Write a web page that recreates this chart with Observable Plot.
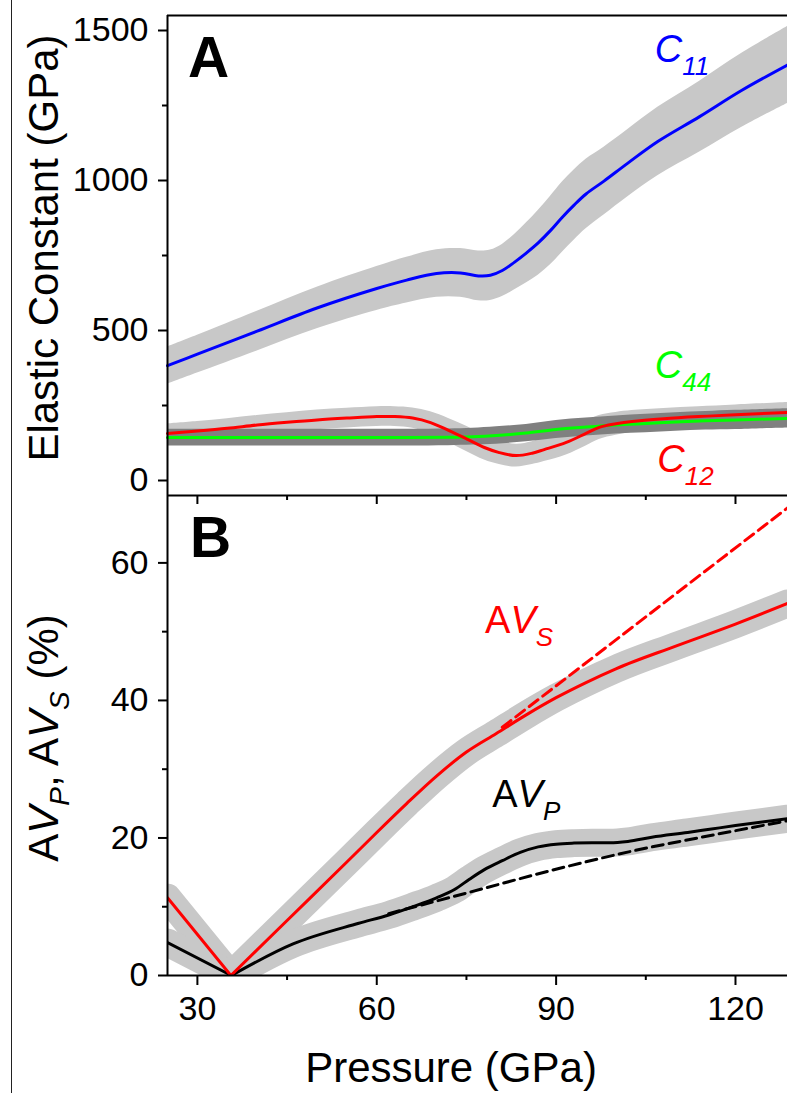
<!DOCTYPE html>
<html><head><meta charset="utf-8">
<script src="https://cdn.jsdelivr.net/npm/d3@7"></script>
<script src="https://cdn.jsdelivr.net/npm/@observablehq/plot@0.6"></script>
<style>
body{margin:0;background:#fff;}
#wrap{position:relative;width:787px;height:1093px;overflow:hidden;font-family:"Liberation Sans",Arial,sans-serif;background:#fff;}
#wrap svg{position:absolute;left:0;}
#wrap g[aria-label$="tick label"]{font-size:34px;}
.border{position:absolute;left:11px;top:0;width:1px;height:1093px;background:#222;}
</style></head><body><div id="wrap"><div class="border"></div></div>
<script>
// ---------- Panel A data (Elastic constants, GPa) ----------
const P11 = [25, 30, 40, 50, 60, 65, 70, 74, 77, 79, 81, 83, 85, 87, 89, 91, 93, 95, 98, 102, 107, 114, 121, 128.7];
const C11 = [383, 421, 498, 575, 640, 668, 690, 692, 682, 684, 700, 727, 758, 792, 832, 877, 918, 955, 998, 1058, 1130, 1213, 1300, 1385];
const C11err = [62, 63, 66, 69, 73, 76, 79, 81, 83, 84, 87, 92, 100, 108, 114, 117, 117, 116, 113, 112, 114, 118, 123, 128];

const P12 = [25, 30, 35, 40, 45, 50, 55, 60, 63, 66, 69, 72, 75, 78, 80.5, 83.3, 86, 88, 91.7, 95, 97.2, 100, 102.7, 108, 113.8, 120, 128.7];
const C12 = [157, 165, 174, 185, 194, 202, 208, 213, 213, 208, 193, 167, 139, 110, 93, 83, 91, 103, 127, 157, 177, 189, 197, 206, 213, 219, 227];
const C12err = [32, 32, 32, 32, 32, 33, 33, 33, 33, 34, 36, 40, 42, 42, 40, 38, 38, 40, 42, 42, 40, 38, 36, 34, 33, 33, 33];

const P44 = [25, 40, 55, 65, 72, 76, 80, 85, 90, 95, 100, 105, 110, 115, 120, 128.7];
const C44 = [143, 143, 143, 143, 144, 146, 150, 158, 170, 178, 185, 190, 195, 199, 202, 207];
const C44err = [28, 28, 28, 28, 28, 28, 29, 29, 30, 30, 30, 31, 31, 31, 32, 32];

// ---------- Panel B data (anisotropy, %) ----------
const PS = [25, 35.6, 45, 55, 60, 65, 70, 75, 80, 85, 90, 95, 100, 110, 120, 128.7];
const AVS = [11.3, 0, 8.0, 16.5, 20.8, 25.0, 29.0, 32.5, 35.2, 37.9, 40.4, 42.6, 44.6, 47.9, 51.1, 54.1];
const PSdash = [81, 128.7];
const AVSdash = [36.1, 68.0];

const PP = [25, 35.7, 46, 57, 62, 66, 70, 73, 75.5, 78, 81, 84, 87, 90, 93, 96, 99, 102, 106, 112, 116, 120, 128.7];
const AVP = [4.8, 0, 4.6, 7.6, 8.8, 10.0, 11.3, 12.5, 14.0, 15.4, 16.7, 17.9, 18.7, 19.1, 19.25, 19.3, 19.3, 19.5, 20.1, 20.8, 21.3, 21.8, 22.8];
const PPdash = [62, 75.5, 89.3, 103.3, 114.3, 128.7];
const AVPdash = [9.0, 12.1, 15.3, 18.2, 20.1, 22.5];

const apexS = 35.6, apexP = 35.7;

// ---------- ticks ----------
const xTicks = [30, 60, 90, 120];
const xMinor = [45, 75, 105];
const yTicksA = [0, 500, 1000, 1500];
const yMinorA = [250, 750, 1250];
const yTicksB = [0, 20, 40, 60];
const yMinorB = [10, 30, 50];

const xDomain = [25, 128.7];
const W = 787;
const FONT = '"Liberation Sans", Arial, sans-serif';
const BLUE = "#0000ff", RED = "#ff0000", GREEN = "#00ff00", BAND = "#c8c8c8", DARK = "#808080";

const rows = (P, v, e) => P.map((p, i) => ({P: p, v: v[i], e: e ? e[i] : 0}));
const A11 = rows(P11, C11, C11err), A12 = rows(P12, C12, C12err), A44 = rows(P44, C44, C44err);
const BS = rows(PS, AVS), BSd = rows(PSdash, AVSdash), BP = rows(PP, AVP), BPd = rows(PPdash, AVPdash);

const axisStyle = {strokeWidth: 2, label: null, fontSize: 34, fill: "#000"};
const fmt = d => String(d);

const plotA = Plot.plot({
  width: W, height: 510, marginLeft: 167, marginRight: 0, marginTop: 15, marginBottom: 15,
  x: {domain: xDomain, label: null}, y: {domain: [-50, 1550], label: null},
  style: {fontFamily: FONT, fontSize: "34px", background: "transparent", overflow: "visible", color: "#000"},
  marks: [
    Plot.areaY(A11, {x: "P", y1: d => d.v - d.e, y2: d => d.v + d.e, fill: BAND, curve: "catmull-rom"}),
    Plot.areaY(A12, {x: "P", y1: d => d.v - d.e, y2: d => d.v + d.e, fill: BAND, curve: "catmull-rom"}),
    Plot.areaY(A44, {x: "P", y1: d => d.v - d.e, y2: d => d.v + d.e, fill: DARK, curve: "catmull-rom"}),
    Plot.line(A44, {x: "P", y: "v", stroke: GREEN, strokeWidth: 3, curve: "catmull-rom"}),
    Plot.line(A12, {x: "P", y: "v", stroke: RED, strokeWidth: 3, curve: "catmull-rom"}),
    Plot.line(A11, {x: "P", y: "v", stroke: BLUE, strokeWidth: 3, curve: "catmull-rom"}),
    Plot.ruleX([xDomain[0]], {strokeWidth: 2}),
    Plot.ruleY([1550], {strokeWidth: 2}),
    Plot.ruleY([-50], {strokeWidth: 2}),
    Plot.axisY({ticks: yTicksA, tickSize: 9, tickPadding: 10, tickFormat: fmt, ...axisStyle}),
    Plot.axisY({ticks: yMinorA, tickSize: 5, tickFormat: () => "", ...axisStyle}),
    Plot.axisX({ticks: xTicks, tickSize: 9, tickFormat: () => "", ...axisStyle}),
    Plot.axisX({ticks: xMinor, tickSize: 5, tickFormat: () => "", ...axisStyle})
  ]
});

const bandLine = (data, curve) => Plot.line(data, {x: "P", y: "v", stroke: BAND, strokeWidth: 28, strokeLinecap: "round", strokeLinejoin: "round", curve, clip: true});
const dataLine = (data, color, curve, dash) => Plot.line(data, {x: "P", y: "v", stroke: color, strokeWidth: 3, curve, clip: true, strokeDasharray: dash});

const plotB = Plot.plot({
  width: W, height: 598, marginLeft: 167, marginRight: 0, marginTop: 0, marginBottom: 118,
  x: {domain: xDomain, label: null}, y: {domain: [0, 69.8], label: null},
  style: {fontFamily: FONT, fontSize: "34px", background: "transparent", overflow: "visible", color: "#000"},
  marks: [
    bandLine(BS.filter(d => d.P <= apexS), "linear"),
    bandLine(BS.filter(d => d.P >= apexS), "monotone-x"),
    bandLine(BP.filter(d => d.P <= apexP), "linear"),
    bandLine(BP.filter(d => d.P >= apexP), "monotone-x"),
    dataLine(BSd, RED, "linear", "11,6"),
    dataLine(BPd, "#000", "monotone-x", "11,6"),
    dataLine(BP.filter(d => d.P <= apexP), "#000", "linear"),
    dataLine(BP.filter(d => d.P >= apexP), "#000", "monotone-x"),
    dataLine(BS.filter(d => d.P <= apexS), RED, "linear"),
    dataLine(BS.filter(d => d.P >= apexS), RED, "monotone-x"),
    Plot.ruleX([xDomain[0]], {strokeWidth: 2}),
    Plot.ruleY([0], {strokeWidth: 2}),
    Plot.axisY({ticks: yTicksB, tickSize: 9, tickPadding: 10, tickFormat: fmt, ...axisStyle}),
    Plot.axisY({ticks: yMinorB, tickSize: 5, tickFormat: () => "", ...axisStyle}),
    Plot.axisX({ticks: xTicks, tickSize: 10, tickPadding: 10, tickFormat: fmt, ...axisStyle}),
    Plot.axisX({ticks: xMinor, tickSize: 5, tickFormat: () => "", ...axisStyle})
  ]
});

const wrap = document.getElementById("wrap");
plotB.style.top = "495px";
plotA.style.top = "0px";
wrap.appendChild(plotB);
wrap.appendChild(plotA);

// ---------- annotations ----------
const seriesLabelsA = [
  {P: 106.6, v: 1393, color: BLUE, parts: [["C", "i"], ["11", "is"]]},
  {P: 106.6, v: 340, color: GREEN, parts: [["C", "i"], ["44", "is"]]},
  {P: 107.0, v: 27, color: RED, parts: [["C", "i"], ["12", "is"]]}
];
const seriesLabelsB = [
  {P: 78.2, v: 49.7, color: RED, parts: [["A", ""], ["V", "i"], ["S", "is"]]},
  {P: 79.4, v: 24.4, color: "#000", parts: [["A", ""], ["V", "i"], ["P", "is"]]}
];

function rich(sel, parts, size, subSize, drop) {
  let down = false;
  for (const [t, f] of parts) {
    const ts = sel.append("tspan").text(t);
    if (f.includes("i")) ts.attr("font-style", "italic");
    if (f.includes("s")) { ts.attr("font-size", subSize).attr("dy", down ? 0 : drop); down = true; }
    else { ts.attr("font-size", size); if (down) { ts.attr("dy", -drop); down = false; } }
  }
}

function addSeriesLabels(plot, labels) {
  const sx = plot.scale("x"), sy = plot.scale("y");
  const g = d3.select(plot).append("g").attr("font-family", FONT).attr("text-anchor", "start");
  for (const l of labels) {
    const t = g.append("text").attr("x", sx.apply(l.P)).attr("y", sy.apply(l.v)).attr("fill", l.color);
    rich(t, l.parts, 38, 26, 13);
  }
}
addSeriesLabels(plotA, seriesLabelsA);
addSeriesLabels(plotB, seriesLabelsB);

// panel letters
d3.select(plotA).append("text").attr("x", 188).attr("y", 77).attr("font-family", FONT).attr("text-anchor", "start")
  .attr("font-weight", "bold").attr("font-size", 57).attr("fill", "#000").text("A");
d3.select(plotB).append("text").attr("x", 190).attr("y", 62).attr("font-family", FONT).attr("text-anchor", "start")
  .attr("font-weight", "bold").attr("font-size", 57).attr("fill", "#000").text("B");

// axis titles
d3.select(plotA).append("text").attr("transform", "translate(58,248) rotate(-90)")
  .attr("text-anchor", "middle").attr("font-family", FONT).attr("font-size", 42).attr("fill", "#000")
  .text("Elastic Constant (GPa)");
const yB = d3.select(plotB).append("text").attr("transform", "translate(58,243) rotate(-90)")
  .attr("text-anchor", "middle").attr("font-family", FONT).attr("fill", "#000");
rich(yB, [["A", ""], ["V", "i"], ["P", "is"], [", A", ""], ["V", "i"], ["S", "is"], [" (%)", ""]], 42, 28, 11);
d3.select(plotB).append("text").attr("x", 451).attr("y", 587)
  .attr("text-anchor", "middle").attr("font-family", FONT).attr("font-size", 42).attr("fill", "#000")
  .text("Pressure (GPa)");
</script>
</body></html>
